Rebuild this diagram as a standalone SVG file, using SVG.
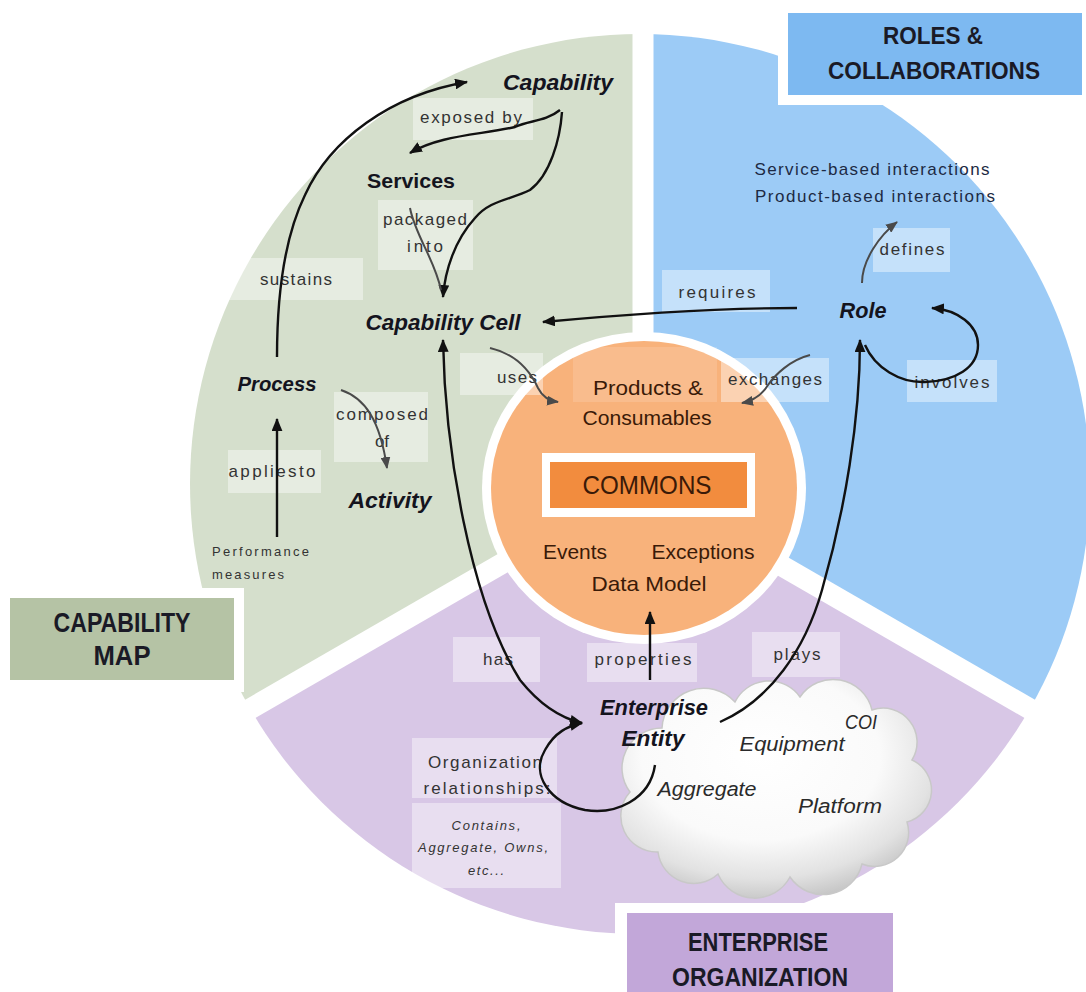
<svg xmlns="http://www.w3.org/2000/svg" width="1086" height="992" viewBox="0 0 1086 992">
<defs>
<style>
.node{font-family:"Liberation Sans",Arial,sans-serif;font-style:italic;font-weight:bold;fill:#14141e;text-anchor:middle}
.hd{font-family:"Liberation Sans",Arial,sans-serif;font-weight:bold;fill:#1a1a26;text-anchor:middle}
.cm{font-family:"Liberation Sans",Arial,sans-serif;fill:#3a1a08;text-anchor:middle}
.el{font-family:"Liberation Sans",Arial,sans-serif;font-size:17px;fill:#333;text-anchor:middle}
.lb{fill:#ffffff;fill-opacity:0.42}
.cl{font-family:"Liberation Sans",Arial,sans-serif;font-style:italic;font-size:20px;fill:#2a2a2a;text-anchor:middle}
.c{fill:none;stroke:#111;stroke-width:2.4}
.cg{fill:none;stroke:#4a4a4a;stroke-width:2}
</style>
<marker id="ah" viewBox="0 0 12 10" refX="11" refY="5" markerWidth="13" markerHeight="11" markerUnits="userSpaceOnUse" orient="auto-start-reverse"><path d="M0,0 L12,5 L0,10 Z" fill="#111"/></marker>
<marker id="ahg" viewBox="0 0 12 10" refX="11" refY="5" markerWidth="12" markerHeight="10" markerUnits="userSpaceOnUse" orient="auto"><path d="M0,0 L12,5 L0,10 Z" fill="#4a4a4a"/></marker>
<radialGradient id="cloudg" cx="45%" cy="35%" r="70%">
<stop offset="0" stop-color="#ffffff"/>
<stop offset="0.55" stop-color="#fafafa"/>
<stop offset="0.8" stop-color="#e2e2e2"/>
<stop offset="1" stop-color="#bdbdbd"/>
</radialGradient>
</defs>
<rect width="1086" height="992" fill="#ffffff"/>

<g id="sectors">
<path id="sector-capability" d="M640,484 L640,34 A450,450 0 0 0 250.3,709 Z" fill="#d5dfcc"/>
<path id="sector-roles" d="M640,484 L1029.7,709 A450,450 0 0 0 640,34 Z" fill="#9ccbf6"/>
<path id="sector-enterprise" d="M640,484 L250.3,709 A450,450 0 0 0 1029.7,709 Z" fill="#d8c7e6"/>
<g stroke="#ffffff" stroke-width="21">
<line x1="643" y1="0" x2="643" y2="484"/>
<line x1="640" y1="484" x2="120" y2="784"/>
<line x1="640" y1="484" x2="1160" y2="784"/>
</g>
</g>

<g id="title-capability-map">
<rect x="0" y="588" width="244" height="104" fill="#ffffff"/>
<rect x="10" y="598" width="224" height="82" fill="#b5c3a5"/>
<text class="hd" x="122" y="632" font-size="27" textLength="137" lengthAdjust="spacingAndGlyphs">CAPABILITY</text>
<text class="hd" x="122" y="665" font-size="27" textLength="57" lengthAdjust="spacingAndGlyphs">MAP</text>
</g>
<g id="title-roles">
<rect x="778" y="3" width="308" height="102" fill="#ffffff"/>
<rect x="788" y="13" width="294" height="82" fill="#7db9f1"/>
<text class="hd" x="933" y="44" font-size="24" textLength="100" lengthAdjust="spacingAndGlyphs">ROLES &amp;</text>
<text class="hd" x="934" y="79" font-size="24" textLength="212" lengthAdjust="spacingAndGlyphs">COLLABORATIONS</text>
</g>
<g id="title-enterprise">
<rect x="615" y="903" width="290" height="89" fill="#ffffff"/>
<rect x="627" y="913" width="266" height="79" fill="#c2a7d9"/>
<text class="hd" x="758" y="951" font-size="25" textLength="140" lengthAdjust="spacingAndGlyphs">ENTERPRISE</text>
<text class="hd" x="760" y="986" font-size="25" textLength="176" lengthAdjust="spacingAndGlyphs">ORGANIZATION</text>
</g>

<g id="commons">
<ellipse cx="644" cy="488" rx="162" ry="156" fill="#ffffff"/>
<ellipse cx="644" cy="488" rx="153" ry="147" fill="#f8b27b"/>
<rect x="573" y="347" width="144" height="55" fill="#ffffff" fill-opacity="0.14"/>
<rect x="542" y="453" width="213" height="64" fill="#ffffff"/>
<rect x="550" y="462" width="197" height="46" fill="#f28c3e"/>
<text class="cm" x="647" y="494" font-size="25" textLength="129" lengthAdjust="spacingAndGlyphs">COMMONS</text>
<text class="cm" x="648" y="395" font-size="20" textLength="110" lengthAdjust="spacingAndGlyphs">Products  &amp;</text>
<text class="cm" x="647" y="425" font-size="20" textLength="129" lengthAdjust="spacingAndGlyphs">Consumables</text>
<text class="cm" x="575" y="559" font-size="21" textLength="64" lengthAdjust="spacingAndGlyphs">Events</text>
<text class="cm" x="703" y="559" font-size="21" textLength="103" lengthAdjust="spacingAndGlyphs">Exceptions</text>
<text class="cm" x="649" y="591" font-size="21" textLength="115" lengthAdjust="spacingAndGlyphs">Data Model</text>
</g>

<g id="cloud">
<path d="M630,792 A40,40 0 0 1 662,728 A42,42 0 0 1 735,702 A38,38 0 0 1 800,697 A40,40 0 0 1 872,710 A34,34 0 0 1 912,760 A33,33 0 0 1 907,822 A34,34 0 0 1 862,864 A40,40 0 0 1 790,877 A40,40 0 0 1 718,874 A36,36 0 0 1 658,852 A36,36 0 0 1 630,792 Z" fill="url(#cloudg)" stroke="#c8c8c8" stroke-width="1.5"/>
<text class="cl" x="861" y="729" textLength="32" lengthAdjust="spacingAndGlyphs">COI</text>
<text class="cl" x="792" y="751" textLength="105" lengthAdjust="spacingAndGlyphs">Equipment</text>
<text class="cl" x="707" y="796" textLength="99" lengthAdjust="spacingAndGlyphs">Aggregate</text>
<text class="cl" x="840" y="813" textLength="84" lengthAdjust="spacingAndGlyphs">Platform</text>
</g>

<g id="label-exposed-by"><rect class="lb" x="413" y="98" width="120" height="42"/><text class="el" x="471" y="123" textLength="102" lengthAdjust="spacing">exposed by</text></g>
<g id="label-packaged-into"><rect class="lb" x="378" y="200" width="95" height="70"/><text class="el" x="425" y="225" textLength="84" lengthAdjust="spacing">packaged</text><text class="el" x="425" y="252" textLength="36" lengthAdjust="spacing">into</text></g>
<g id="label-sustains"><rect class="lb" x="227" y="258" width="136" height="42"/><text class="el" x="296" y="285" textLength="72" lengthAdjust="spacing">sustains</text></g>
<g id="label-uses"><rect class="lb" x="460" y="353" width="83" height="42"/><text class="el" x="517" y="383" textLength="40" lengthAdjust="spacing">uses</text></g>
<g id="label-composed-of"><rect class="lb" x="334" y="392" width="94" height="70"/><text class="el" x="382" y="420" textLength="92" lengthAdjust="spacing">composed</text><text class="el" x="382" y="447">of</text></g>
<g id="label-applies-to"><rect class="lb" x="228" y="450" width="93" height="43"/><text class="el" x="272" y="477" textLength="87" lengthAdjust="spacing">appliesto</text></g>
<g id="label-performance"><text class="el" x="212" y="556" style="text-anchor:start;font-size:13px" textLength="97" lengthAdjust="spacing">Performance</text><text class="el" x="212" y="579" style="text-anchor:start;font-size:13px" textLength="72" lengthAdjust="spacing">measures</text></g>
<g id="label-requires"><rect class="lb" x="662" y="270" width="108" height="42"/><text class="el" x="717" y="298" textLength="77" lengthAdjust="spacing">requires</text></g>
<g id="label-defines"><rect class="lb" x="873" y="228" width="77" height="44"/><text class="el" x="912" y="255" textLength="65" lengthAdjust="spacing">defines</text></g>
<g id="label-exchanges"><rect class="lb" x="721" y="358" width="108" height="44"/><text class="el" x="775" y="385" textLength="94" lengthAdjust="spacing">exchanges</text></g>
<g id="label-involves"><rect class="lb" x="907" y="360" width="90" height="42"/><text class="el" x="952" y="388" textLength="75" lengthAdjust="spacing">involves</text></g>
<g id="label-interactions"><text class="el" x="872" y="175" style="fill:#1c2a44" textLength="235" lengthAdjust="spacing">Service-based interactions</text><text class="el" x="875" y="202" style="fill:#1c2a44" textLength="240" lengthAdjust="spacing">Product-based interactions</text></g>
<g id="label-has"><rect class="lb" x="453" y="637" width="87" height="45"/><text class="el" x="498" y="665" textLength="30" lengthAdjust="spacing">has</text></g>
<g id="label-properties"><rect class="lb" x="587" y="643" width="110" height="39"/><text class="el" x="643" y="665" textLength="97" lengthAdjust="spacing">properties</text></g>
<g id="label-plays"><rect class="lb" x="752" y="632" width="88" height="45"/><text class="el" x="797" y="660" textLength="47" lengthAdjust="spacing">plays</text></g>
<g id="label-org-relationships"><rect class="lb" x="412" y="738" width="145" height="60"/><text class="el" x="485" y="768" textLength="114" lengthAdjust="spacing">Organization</text><text class="el" x="487" y="794" textLength="127" lengthAdjust="spacing">relationships:</text></g>
<g id="label-contains"><rect class="lb" x="412" y="803" width="149" height="85"/><text class="el" x="486" y="830" style="font-size:13px;font-style:italic" textLength="69" lengthAdjust="spacing">Contains,</text><text class="el" x="483" y="852" style="font-size:13px;font-style:italic" textLength="130" lengthAdjust="spacing">Aggregate, Owns,</text><text class="el" x="486" y="875" style="font-size:13px;font-style:italic" textLength="36" lengthAdjust="spacing">etc...</text></g>

<g id="connectors">
<path class="c" d="M277,357 C277,300 283,240 305,195 C330,140 390,95 467,82" marker-end="url(#ah)"/>
<path class="c" d="M560,110 C545,122 530,120 515,127 C480,135 440,135 410,153" marker-end="url(#ah)"/>
<path class="c" d="M562,112 C560,140 550,175 530,190 C510,200 490,200 475,218 C455,240 445,270 443,297" marker-end="url(#ah)"/>
<path class="cg" d="M410,208 C415,235 435,260 441,290"/>
<path class="c" d="M797,308 C740,308 650,312 543,322" marker-end="url(#ah)"/>
<path class="cg" d="M490,348 C520,355 532,375 538,388 C543,398 550,401 558,402" marker-end="url(#ahg)"/>
<path class="cg" d="M810,355 C790,360 775,375 768,385 C762,395 752,401 742,403" marker-end="url(#ahg)"/>
<path class="cg" d="M862,283 C862,260 880,235 897,222" marker-end="url(#ahg)"/>
<path class="c" d="M865,345 C875,368 900,383 925,382 C955,381 978,368 978,345 C978,325 958,310 932,308" marker-end="url(#ah)"/>
<path class="c" d="M720,722 C770,700 805,650 822,590 C845,510 860,420 860,340" marker-end="url(#ah)"/>
<path class="c" d="M443,340 C445,450 470,600 520,680 C540,705 560,718 582,723" marker-start="url(#ah)" marker-end="url(#ah)"/>
<path class="c" d="M655,765 C650,800 615,815 585,810 C550,803 530,775 545,750 C555,732 568,726 582,723" marker-end="url(#ah)"/>
<path class="c" d="M650,680 L650,612" marker-end="url(#ah)"/>
<path class="c" d="M277,537 L277,419" marker-end="url(#ah)"/>
<path class="cg" d="M341,390 C365,398 380,420 387,468" marker-end="url(#ahg)"/>
</g>

<g id="node-capability"><text class="node" x="558" y="90" font-size="22" textLength="110" lengthAdjust="spacingAndGlyphs">Capability</text></g>
<g id="node-services"><text class="node" x="411" y="188" font-size="21" style="font-style:normal" textLength="88" lengthAdjust="spacingAndGlyphs">Services</text></g>
<g id="node-capability-cell"><text class="node" x="443" y="330" font-size="22" textLength="155" lengthAdjust="spacingAndGlyphs">Capability Cell</text></g>
<g id="node-process"><text class="node" x="277" y="391" font-size="21" textLength="79" lengthAdjust="spacingAndGlyphs">Process</text></g>
<g id="node-activity"><text class="node" x="390" y="508" font-size="22" textLength="83" lengthAdjust="spacingAndGlyphs">Activity</text></g>
<g id="node-role"><text class="node" x="863" y="318" font-size="22" textLength="47" lengthAdjust="spacingAndGlyphs">Role</text></g>
<g id="node-enterprise-entity"><text class="node" x="654" y="715" font-size="22" textLength="108" lengthAdjust="spacingAndGlyphs">Enterprise</text><text class="node" x="653" y="746" font-size="22" textLength="63" lengthAdjust="spacingAndGlyphs">Entity</text></g>
</svg>
